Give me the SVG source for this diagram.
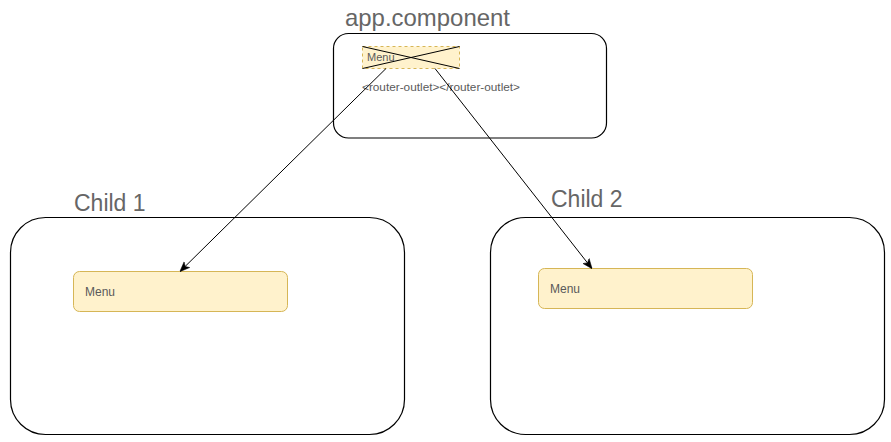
<svg xmlns="http://www.w3.org/2000/svg" width="891" height="442" viewBox="0 0 891 442">
<style>
.frame{fill:#fff;stroke:#000;stroke-width:1.2}
.menu{fill:#fff2cc;stroke:#d6b656;stroke-width:1}
.title{font-family:"Liberation Sans",Arial,sans-serif;font-size:23px;fill:#666}
.lbl{font-family:"Liberation Sans",Arial,sans-serif;font-size:12px;fill:#5a5a5a}
.edge{stroke:#000;stroke-width:1;fill:none}
</style>
<defs>
<marker id="arr" viewBox="0 0 10 10" refX="9" refY="5" markerWidth="10" markerHeight="10" markerUnits="userSpaceOnUse" orient="auto">
<path d="M0,1 L10,5 L0,9 L2.5,5 Z" fill="#000" stroke="#000" stroke-width="0.5"/>
</marker>
</defs>
<rect width="891" height="442" fill="#fff"/>
<g id="app">
<text class="title" x="345" y="26" style="font-size:24px" textLength="165" lengthAdjust="spacingAndGlyphs">app.component</text>
<rect class="frame" x="333.5" y="33.5" width="273" height="104.5" rx="15" ry="15"/>
<rect x="362.5" y="46.5" width="97" height="22" fill="#fff2cc" stroke="#d6b656" stroke-dasharray="3,3"/>
<line x1="362.5" y1="46.5" x2="459.5" y2="68.5" stroke="#000"/>
<line x1="362.5" y1="68.5" x2="459.5" y2="46.5" stroke="#000"/>
<text class="lbl" x="367" y="61" style="font-size:11px">Menu</text>
<text class="lbl" x="362" y="91" style="font-size:11px" textLength="158" lengthAdjust="spacingAndGlyphs">&lt;router-outlet&gt;&lt;/router-outlet&gt;</text>
</g>
<g id="child1">
<text class="title" x="74" y="211">Child 1</text>
<rect class="frame" x="10.5" y="217.5" width="394" height="217" rx="35" ry="35"/>
<rect class="menu" x="73.5" y="271.5" width="214" height="40" rx="6" ry="6"/>
<text class="lbl" x="85" y="296">Menu</text>
</g>
<g id="child2">
<text class="title" x="551" y="207">Child 2</text>
<rect class="frame" x="490.5" y="217.5" width="394" height="217" rx="35" ry="35"/>
<rect class="menu" x="538.5" y="268.5" width="214" height="40" rx="6" ry="6"/>
<text class="lbl" x="550" y="293">Menu</text>
</g>
<g id="connectors">
<line class="edge" x1="386" y1="68.5" x2="180.5" y2="271" marker-end="url(#arr)"/>
<line class="edge" x1="435" y1="68.5" x2="591.5" y2="268" marker-end="url(#arr)"/>
</g>
</svg>
